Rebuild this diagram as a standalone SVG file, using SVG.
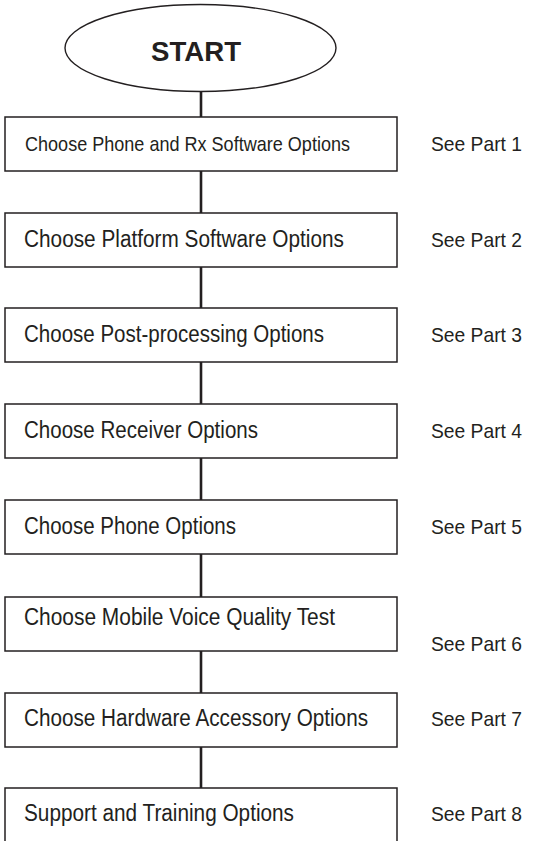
<svg xmlns="http://www.w3.org/2000/svg" width="533" height="841" viewBox="0 0 533 841">
<style>
.bg{fill:#fff}
.box{fill:#fff;stroke:#231f20;stroke-width:1.5}
.ell{fill:#fff;stroke:#231f20;stroke-width:1.4}
.lbl{font-family:"Liberation Sans",Arial,sans-serif;font-size:23px;fill:#231f20}
.see{font-family:"Liberation Sans",Arial,sans-serif;font-size:21px;fill:#231f20}
.start{font-family:"Liberation Sans",Arial,sans-serif;font-size:28px;font-weight:bold;fill:#231f20}
.con{stroke:#231f20;stroke-width:2.6;fill:none}
</style>
<rect class="bg" x="0" y="0" width="533" height="841"/>
<g id="connectors">
<line class="con" x1="201" y1="91" x2="201" y2="117"/>
<line class="con" x1="201" y1="171" x2="201" y2="213"/>
<line class="con" x1="201" y1="267" x2="201" y2="308"/>
<line class="con" x1="201" y1="362" x2="201" y2="404"/>
<line class="con" x1="201" y1="458" x2="201" y2="500"/>
<line class="con" x1="201" y1="554" x2="201" y2="597"/>
<line class="con" x1="201" y1="651" x2="201" y2="693"/>
<line class="con" x1="201" y1="747" x2="201" y2="788"/>
</g>
<g id="start">
<ellipse class="ell" cx="200.5" cy="48" rx="135.5" ry="43.5"/>
<text class="start" x="196" y="61" text-anchor="middle" textLength="90" lengthAdjust="spacingAndGlyphs">START</text>
</g>
<g id="step1">
<rect class="box" x="5" y="117" width="392" height="54"/>
<text class="lbl" x="25" y="151" style="font-size:21px" textLength="325" lengthAdjust="spacingAndGlyphs">Choose Phone and Rx Software Options</text>
<text class="see" x="431" y="151" textLength="91" lengthAdjust="spacingAndGlyphs">See Part 1</text>
</g>
<g id="step2">
<rect class="box" x="5" y="213" width="392" height="54"/>
<text class="lbl" x="24" y="247" textLength="320" lengthAdjust="spacingAndGlyphs">Choose Platform Software Options</text>
<text class="see" x="431" y="247" textLength="91" lengthAdjust="spacingAndGlyphs">See Part 2</text>
</g>
<g id="step3">
<rect class="box" x="5" y="308" width="392" height="54"/>
<text class="lbl" x="24" y="342" textLength="300" lengthAdjust="spacingAndGlyphs">Choose Post-processing Options</text>
<text class="see" x="431" y="342" textLength="91" lengthAdjust="spacingAndGlyphs">See Part 3</text>
</g>
<g id="step4">
<rect class="box" x="5" y="404" width="392" height="54"/>
<text class="lbl" x="24" y="438" textLength="234" lengthAdjust="spacingAndGlyphs">Choose Receiver Options</text>
<text class="see" x="431" y="438" textLength="91" lengthAdjust="spacingAndGlyphs">See Part 4</text>
</g>
<g id="step5">
<rect class="box" x="5" y="500" width="392" height="54"/>
<text class="lbl" x="24" y="534" textLength="212" lengthAdjust="spacingAndGlyphs">Choose Phone Options</text>
<text class="see" x="431" y="534" textLength="91" lengthAdjust="spacingAndGlyphs">See Part 5</text>
</g>
<g id="step6">
<rect class="box" x="5" y="597" width="392" height="54"/>
<text class="lbl" x="24" y="625" textLength="311" lengthAdjust="spacingAndGlyphs">Choose Mobile Voice Quality Test</text>
<text class="see" x="431" y="651" textLength="91" lengthAdjust="spacingAndGlyphs">See Part 6</text>
</g>
<g id="step7">
<rect class="box" x="5" y="693" width="392" height="54"/>
<text class="lbl" x="24" y="726" textLength="344" lengthAdjust="spacingAndGlyphs">Choose Hardware Accessory Options</text>
<text class="see" x="431" y="726" textLength="91" lengthAdjust="spacingAndGlyphs">See Part 7</text>
</g>
<g id="step8">
<rect class="box" x="5" y="788" width="392" height="56"/>
<text class="lbl" x="24" y="821" textLength="270" lengthAdjust="spacingAndGlyphs">Support and Training Options</text>
<text class="see" x="431" y="821" textLength="91" lengthAdjust="spacingAndGlyphs">See Part 8</text>
</g>
</svg>
